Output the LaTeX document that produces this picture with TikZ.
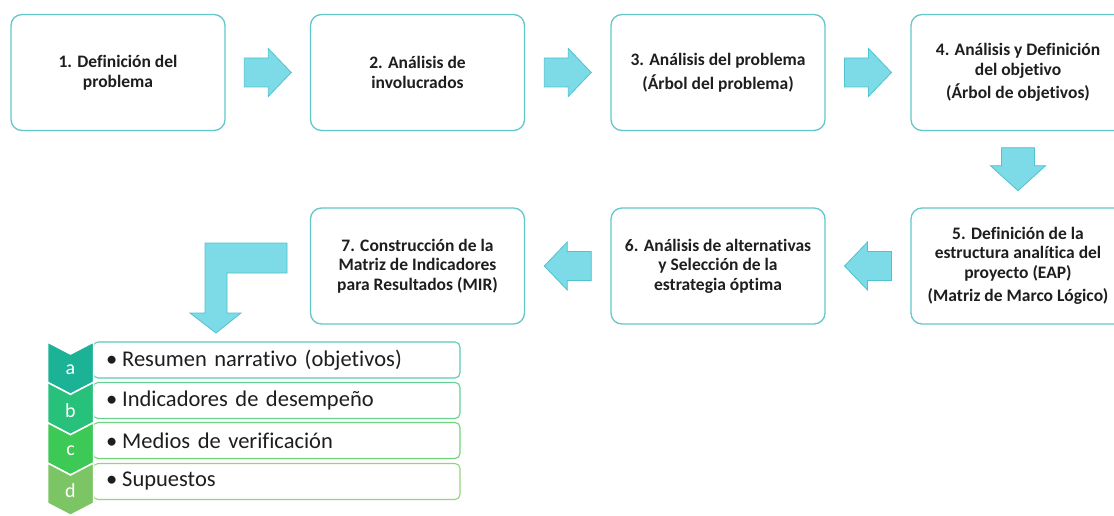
\documentclass[tikz,border=0pt]{standalone}
\usepackage{fontspec}
\setmainfont{Carlito}[Ligatures=NoCommon]
\usetikzlibrary{calc}
\definecolor{boxline}{RGB}{98,200,202}
\definecolor{arrfill}{RGB}{124,219,231}
\definecolor{arrline}{RGB}{80,195,208}
\definecolor{chA}{RGB}{28,178,150}
\definecolor{chB}{RGB}{40,193,124}
\definecolor{chC}{RGB}{60,201,86}
\definecolor{chD}{RGB}{124,197,100}
\definecolor{itA}{RGB}{92,202,178}
\definecolor{itB}{RGB}{100,210,150}
\definecolor{itC}{RGB}{112,212,122}
\definecolor{itD}{RGB}{150,212,128}
\definecolor{txt}{RGB}{30,30,30}
\begin{document}
\begin{tikzpicture}[x=1pt,y=-1pt,
  stepbox/.style={draw=boxline, line width=1.3pt, rounded corners=11pt, fill=white,
    minimum width=214pt, minimum height=116pt, align=center, text=txt,
    font=\fontsize{17.5}{19.5}\selectfont\bfseries, inner sep=2pt},
  blockarrow/.style={fill=arrfill, draw=arrline, line width=0.8pt, line join=miter},
  itembox/.style={line width=1.1pt, rounded corners=5pt, fill=white,
    minimum height=36pt, text width=341pt, inner xsep=13pt, align=left, text=txt,
    font=\fontsize{22.5}{24}\selectfont},
  chevtext/.style={text=white, font=\fontsize{20}{22}\selectfont},
  rarrow/.pic={\path[blockarrow] (-23.5,-14.5) -- (0.5,-14.5) -- (0.5,-24) -- (23.5,0)
      -- (0.5,24) -- (0.5,14.5) -- (-23.5,14.5) -- cycle;},
  darrow/.pic={\path[blockarrow] (-16.5,-21.5) -- (16.5,-21.5) -- (16.5,-3.5) -- (27.5,-3.5)
      -- (0,21.5) -- (-27.5,-3.5) -- (-16.5,-3.5) -- cycle;}
]
\useasboundingbox (0,0) rectangle (1114,516);
\clip (0,0) rectangle (1114,516);
\fill[white] (0,0) rectangle (1114,516);

% top row
\node[stepbox] (b1) at (118,72.5) {1. Definición del\\problema};
\node[stepbox] (b2) at (417.5,72.5) {2. Análisis de\\involucrados};
\node[stepbox] (b3) at (718,72.5) {3. Análisis del problema\\[4pt](Árbol del problema)};
\node[stepbox] (b4) at (1018,72.5) {4. Análisis y Definición\\del objetivo\\[4pt](Árbol de objetivos)};
% bottom row
\node[stepbox] (b5) at (1018,266) {5. Definición de la\\estructura analítica del\\proyecto (EAP)\\[4pt](Matriz de Marco Lógico)};
\node[stepbox] (b6) at (718,266) {6. Análisis de alternativas\\y Selección de la\\estrategia óptima};
\node[stepbox] (b7) at (417.5,266) {7. Construcción de la\\Matriz de Indicadores\\para Resultados (MIR)};

% block arrows between steps
\pic at ($(b1.east)!0.5!(b2.west)$) {rarrow};
\pic at ($(b2.east)!0.5!(b3.west)$) {rarrow};
\pic at ($(b3.east)!0.5!(b4.west)$) {rarrow};
\pic at ($(b4.south)!0.5!(b5.north)$) {darrow};
\pic[rotate=180] at ($(b5.west)!0.5!(b6.east)$) {rarrow};
\pic[rotate=180] at ($(b6.west)!0.5!(b7.east)$) {rarrow};

% bent arrow
\path[blockarrow] (287,243) -- (205,243) -- (205,313) -- (190,313) -- (216,333)
  -- (241,313) -- (227,313) -- (227,273) -- (287,273) -- cycle;

% list items
\node[itembox, draw=itA] (ia) at (276.5,360) {•\hspace{5pt}Resumen narrativo (objetivos)};
\node[itembox, draw=itB] (ib) at (276.5,400.5) {•\hspace{5pt}Indicadores de desempeño};
\node[itembox, draw=itC] (ic) at (276.5,440.5) {•\hspace{5pt}Medios de verificación};
\node[itembox, draw=itD] (id) at (276.5,481.5) {•\hspace{5pt}Supuestos};

% chevrons
\foreach \i/\c/\l in {0/chA/a,1/chB/b,2/chC/c,3/chD/d}{
  \pgfmathsetmacro\t{342+40.33*\i}
  \path[fill=\c, draw=white, line width=1.5pt, line join=miter]
    (47.5,\t) -- (70.5,\t+12) -- (93.5,\t) -- (93.5,\t+40.3) -- (70.5,\t+52.3)
    -- (47.5,\t+40.3) -- cycle;
  \node[chevtext] (ch\l) at (70.5,\t+28) {\l};
}
\end{tikzpicture}
\end{document}
